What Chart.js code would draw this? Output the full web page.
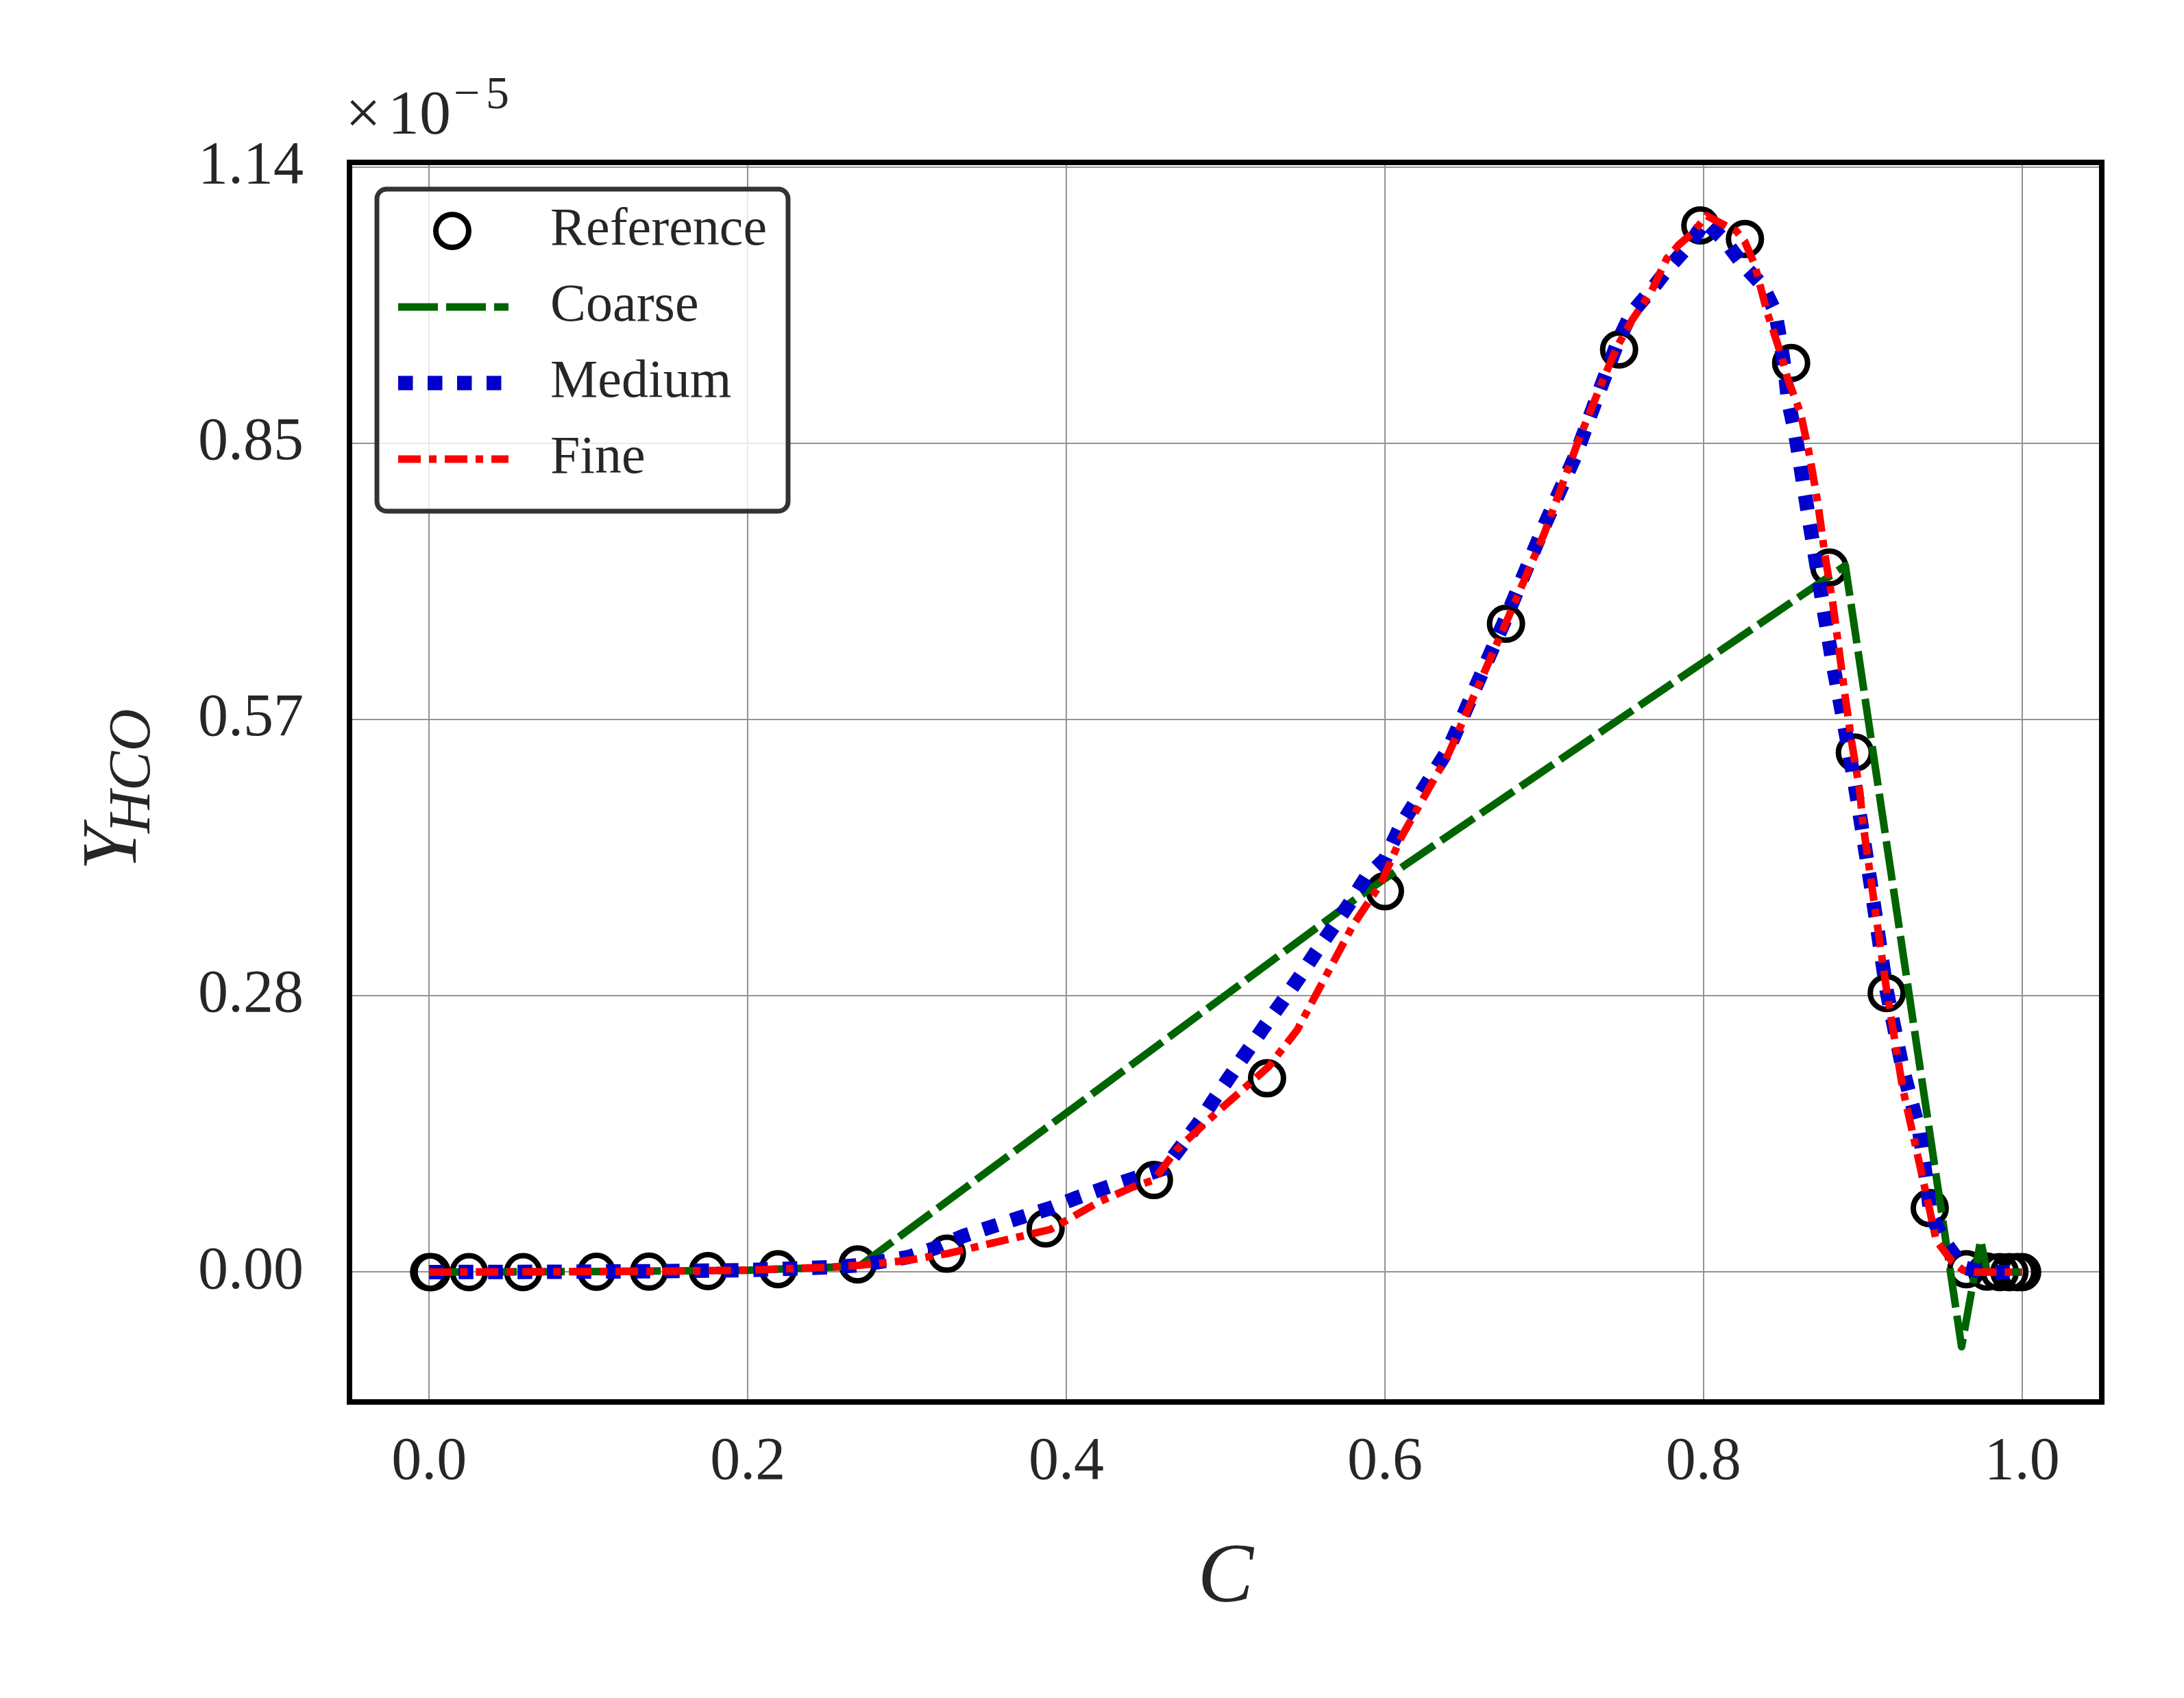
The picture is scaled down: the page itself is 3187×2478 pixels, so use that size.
<!DOCTYPE html>
<html lang="en">
<head>
    <meta charset="UTF-8">
    <title>Y_HCO vs C</title>
    <script src="https://cdn.jsdelivr.net/npm/chart.js"></script>
    <style>
        body { margin: 0; padding: 0; background: #ffffff; }
        canvas { display: block; }
    </style>
</head>
<body>
    <canvas id="hcoChart" width="3187" height="2478" style="width:3187px;height:2478px;"></canvas>

    <script>
        // values, Y in units of 1e-5
        const refC = [0, 0.0015, 0.025, 0.059, 0.105, 0.138, 0.175, 0.219, 0.269, 0.325, 0.387, 0.455, 0.526, 0.600, 0.676, 0.747, 0.798, 0.826, 0.855, 0.879, 0.895, 0.915, 0.942, 0.965, 0.978, 0.986, 0.992, 0.997, 1.0];
        const refY = [0, 0, 0, 0, 0.0003, 0.0005, 0.001, 0.003, 0.008, 0.019, 0.045, 0.095, 0.200, 0.393, 0.669, 0.952, 1.080, 1.066, 0.938, 0.727, 0.536, 0.288, 0.066, 0.003, 0.0005, 0, 0, 0, 0];

        const coarseC = [0, 0.1, 0.2, 0.27, 0.584, 0.889, 0.962, 0.974, 0.978, 0.99, 1.0];
        const coarseY = [0, 0.0005, 0.002, 0.006, 0.388, 0.729, -0.077, 0.033, 0.0, 0.0, 0.0];

        const mediumC = [0, 0.05, 0.1, 0.15, 0.2, 0.25, 0.27, 0.301, 0.318, 0.336, 0.3715, 0.39, 0.407, 0.4245, 0.4617, 0.484, 0.4935, 0.504, 0.514, 0.525, 0.536, 0.547, 0.557, 0.568, 0.578, 0.588, 0.600, 0.61, 0.64, 0.676, 0.70, 0.72, 0.733, 0.7465, 0.7546, 0.766, 0.778, 0.790, 0.801, 0.813, 0.8245, 0.837, 0.845, 0.848, 0.851, 0.853, 0.857, 0.860, 0.863, 0.869, 0.875, 0.881, 0.888, 0.8946, 0.8975, 0.905, 0.915, 0.925, 0.9354, 0.9405, 0.9425, 0.952, 0.963, 0.975, 1.0];
        const mediumY = [0, 0.0002, 0.0005, 0.001, 0.002, 0.005, 0.007, 0.0156, 0.025, 0.0377, 0.0566, 0.066, 0.077, 0.087, 0.107, 0.156, 0.180, 0.205, 0.229, 0.255, 0.280, 0.306, 0.331, 0.357, 0.381, 0.407, 0.426, 0.461, 0.540, 0.675, 0.770, 0.844, 0.902, 0.961, 0.989, 1.011, 1.036, 1.058, 1.084, 1.065, 1.040, 1.018, 0.991, 0.963, 0.931, 0.900, 0.870, 0.841, 0.809, 0.749, 0.688, 0.629, 0.568, 0.507, 0.478, 0.400, 0.290, 0.210, 0.146, 0.087, 0.059, 0.030, 0.005, 0, 0];

        const fineC = [0, 0.05, 0.1, 0.15, 0.2, 0.25, 0.27, 0.30, 0.325, 0.353, 0.390, 0.42, 0.442, 0.455, 0.469, 0.494, 0.527, 0.545, 0.555, 0.567, 0.58, 0.5975, 0.61, 0.64, 0.676, 0.70, 0.7215, 0.737, 0.7455, 0.755, 0.767, 0.777, 0.7845, 0.793, 0.802, 0.8207, 0.826, 0.832, 0.84, 0.847, 0.853, 0.861, 0.867, 0.872, 0.876, 0.881, 0.885, 0.889, 0.893, 0.898, 0.900, 0.915, 0.925, 0.9354, 0.9425, 0.946, 0.956, 0.963, 0.97, 1.0];
        const fineY = [0, 0.0002, 0.0005, 0.001, 0.002, 0.005, 0.007, 0.012, 0.019, 0.0297, 0.044, 0.072, 0.088, 0.095, 0.126, 0.164, 0.212, 0.250, 0.281, 0.318, 0.358, 0.401, 0.448, 0.535, 0.670, 0.762, 0.858, 0.921, 0.954, 0.982, 1.011, 1.046, 1.060, 1.072, 1.090, 1.074, 1.063, 1.040, 0.990, 0.955, 0.921, 0.886, 0.839, 0.791, 0.742, 0.692, 0.643, 0.593, 0.547, 0.497, 0.464, 0.290, 0.190, 0.113, 0.060, 0.033, 0.011, 0.002, 0, 0];

        const xTicks = [0, 0.2, 0.4, 0.6, 0.8, 1.0];
        const xTickLabels = ['0.0', '0.2', '0.4', '0.6', '0.8', '1.0'];
        const yTicks = [0, 0.285, 0.57, 0.855, 1.14];
        const yTickLabels = ['0.00', '0.28', '0.57', '0.85', '1.14'];

        const seriesNames = ['Reference', 'Coarse', 'Medium', 'Fine'];

        const serif = '"Liberation Serif", "Times New Roman", serif';
        const textColor = '#262626';

        function toPoints(xs, ys) {
            return xs.map((x, i) => ({ x: x, y: ys[i] }));
        }

        // line styles shared by the plot and the legend
        const styles = {
            Coarse: { color: '#006400', width: 11, dash: [58, 12] },
            Medium: { color: '#0000CD', width: 21, dash: [21.5, 21.5] },
            Fine:   { color: '#FF0000', width: 11, dash: [33, 12, 11, 12] }
        };

        function lineDataset(name, xs, ys, order) {
            const s = styles[name];
            return {
                label: name,
                data: toPoints(xs, ys),
                showLine: true,
                borderColor: s.color,
                backgroundColor: s.color,
                borderWidth: s.width,
                borderDash: s.dash,
                borderCapStyle: 'butt',
                borderJoinStyle: 'round',
                pointRadius: 0,
                tension: 0,
                order: order
            };
        }

        // spines, legend, offset text and axis titles
        const decorations = {
            id: 'decorations',
            afterDraw(chart) {
                const ctx = chart.ctx;
                const a = chart.chartArea;
                ctx.save();

                // spines
                ctx.strokeStyle = '#000000';
                ctx.lineWidth = 8;
                ctx.setLineDash([]);
                ctx.strokeRect(a.left, a.top, a.right - a.left, a.bottom - a.top);

                // legend box
                const bx = 550, by = 276, bw = 600, bh = 470;
                ctx.beginPath();
                ctx.roundRect(bx, by, bw, bh, 14);
                ctx.fillStyle = 'rgba(255,255,255,0.8)';
                ctx.fill();
                ctx.lineWidth = 7;
                ctx.strokeStyle = '#333333';
                ctx.stroke();

                const rows = [337, 448, 559, 670];
                seriesNames.forEach((name, i) => {
                    const y = rows[i];
                    if (name === 'Reference') {
                        ctx.beginPath();
                        ctx.setLineDash([]);
                        ctx.arc(660, y, 24, 0, Math.PI * 2);
                        ctx.lineWidth = 8;
                        ctx.strokeStyle = '#000000';
                        ctx.stroke();
                    } else {
                        const s = styles[name];
                        ctx.beginPath();
                        ctx.setLineDash(s.dash);
                        ctx.lineCap = 'butt';
                        ctx.moveTo(581, y);
                        ctx.lineTo(742, y);
                        ctx.lineWidth = s.width;
                        ctx.strokeStyle = s.color;
                        ctx.stroke();
                    }
                    ctx.setLineDash([]);
                    ctx.fillStyle = textColor;
                    ctx.font = '78px ' + serif;
                    ctx.textAlign = 'left';
                    ctx.textBaseline = 'middle';
                    ctx.fillText(name, 803, y);
                });

                // x10^-5 offset text
                ctx.fillStyle = textColor;
                ctx.textBaseline = 'alphabetic';
                ctx.textAlign = 'left';
                ctx.font = '92px ' + serif;
                ctx.fillText('\u00d7', 504, 195);
                ctx.fillText('10', 566, 195);
                ctx.font = '68px ' + serif;
                ctx.fillText('\u2212', 662, 158);
                ctx.fillText('5', 709, 158);

                // x title
                ctx.font = 'italic 122px ' + serif;
                ctx.textAlign = 'center';
                ctx.fillText('C', (a.left + a.right) / 2, 2337);

                // y title with subscript
                ctx.translate(198, 1270);
                ctx.rotate(-Math.PI / 2);
                ctx.textAlign = 'left';
                ctx.font = 'italic 115px ' + serif;
                ctx.fillText('Y', 0, 0);
                ctx.font = 'italic 86px ' + serif;
                ctx.fillText('HCO', 54, 20);

                ctx.restore();
            }
        };

        const ctx = document.getElementById('hcoChart').getContext('2d');

        new Chart(ctx, {
            type: 'scatter',
            data: {
                datasets: [
                    {
                        label: 'Reference',
                        data: toPoints(refC, refY),
                        showLine: false,
                        pointStyle: 'circle',
                        pointRadius: 24,
                        pointBorderWidth: 8,
                        pointBorderColor: '#000000',
                        pointBackgroundColor: 'rgba(0,0,0,0)',
                        order: 4
                    },
                    lineDataset('Coarse', coarseC, coarseY, 3),
                    lineDataset('Medium', mediumC, mediumY, 2),
                    lineDataset('Fine', fineC, fineY, 1)
                ]
            },
            options: {
                responsive: false,
                animation: false,
                devicePixelRatio: 1,
                layout: { padding: { left: 0, top: 237, right: 120, bottom: 0 } },
                plugins: {
                    legend: { display: false },
                    tooltip: { enabled: false }
                },
                scales: {
                    x: {
                        type: 'linear',
                        min: -0.05,
                        max: 1.05,
                        afterFit(scale) { scale.height = 432; },
                        afterBuildTicks(scale) { scale.ticks = xTicks.map(v => ({ value: v })); },
                        ticks: {
                            callback: (value, index) => xTickLabels[index],
                            padding: 36,
                            maxRotation: 0,
                            autoSkip: false,
                            color: textColor,
                            font: { family: serif, size: 88 }
                        },
                        grid: { color: '#939393', lineWidth: 2, drawTicks: false },
                        border: { display: false }
                    },
                    y: {
                        type: 'linear',
                        min: -0.134,
                        max: 1.145,
                        afterFit(scale) { scale.width = 510; },
                        afterBuildTicks(scale) { scale.ticks = yTicks.map(v => ({ value: v })); },
                        ticks: {
                            callback: (value, index) => yTickLabels[index],
                            padding: 67,
                            autoSkip: false,
                            color: textColor,
                            font: { family: serif, size: 88 }
                        },
                        grid: { color: '#939393', lineWidth: 2, drawTicks: false },
                        border: { display: false }
                    }
                }
            },
            plugins: [decorations]
        });
    </script>
</body>
</html>
